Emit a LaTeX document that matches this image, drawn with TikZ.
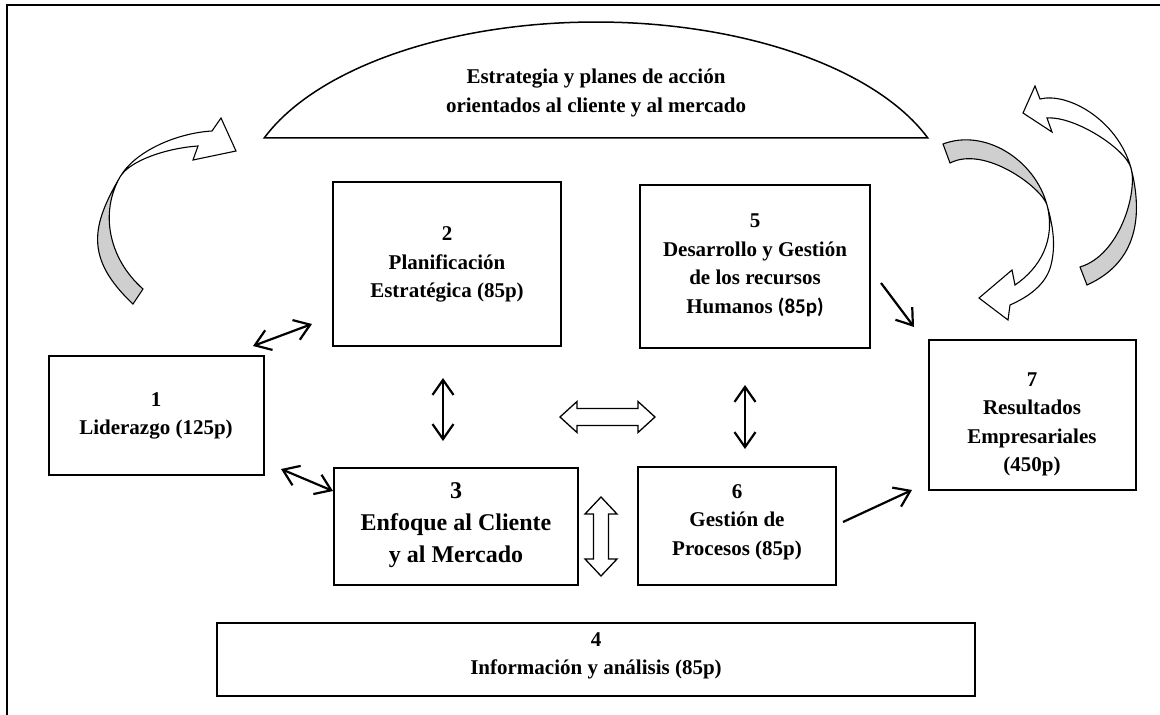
\documentclass[tikz,border=0pt]{standalone}
\usepackage{fontspec}
\setmainfont{Liberation Serif}
\newfontfamily\calib{Carlito}
\usetikzlibrary{arrows.meta}
\begin{document}
\begin{tikzpicture}[x=1pt,y=-1pt,
 >={Straight Barb[length=15pt,width=21pt]},
 box/.style={draw,line width=1.6pt,fill=white,inner sep=0pt},
 lbl/.style={align=center,inner sep=0pt,font=\bfseries\fontsize{21}{28.5}\selectfont},
 lblbig/.style={align=center,inner sep=0pt,font=\bfseries\fontsize{24}{32}\selectfont},
 link/.style={line width=2.2pt},
 twist/.style={draw,line width=1.1pt,line join=miter},
 backside/.style={twist,fill=black!19},
 frontside/.style={twist,fill=white},
 hollow/.style={draw,line width=1.3pt,fill=white,line join=miter}]

\useasboundingbox (0,0) rectangle (1160,715);

% outer frame
\draw[line width=1.7pt] (7,715) -- (7,5) -- (1160,5);

% dome
\draw[line width=1.5pt,fill=white] plot[domain=20.4:159.6,samples=90,variable=\t] ({596+354*cos(\t)},{200-178*sin(\t)}) -- cycle;
\node[lbl] (tdome) at (596,93) {Estrategia y planes de acción\\orientados al cliente y al mercado};

% boxes
\node[box,minimum width=215pt,minimum height=119pt] (b1) at (156.5,415.5) {};
\node[box,minimum width=228pt,minimum height=164pt] (b2) at (447,264) {};
\node[box,minimum width=244pt,minimum height=117pt] (b3) at (456,526.5) {};
\node[box,minimum width=758pt,minimum height=73pt] (b4) at (596,659.5) {};
\node[box,minimum width=230pt,minimum height=163pt] (b5) at (755,266.5) {};
\node[box,minimum width=198pt,minimum height=118pt] (b6) at (737,526) {};
\node[box,minimum width=207pt,minimum height=150pt] (b7) at (1032.5,415) {};

% labels
\node[lbl] (t1) at (156,416) {1\\Liderazgo (125p)};
\node[lbl] (t2) at (447,264.5) {2\\Planificación\\Estratégica (85p)};
\node[lblbig] (t3) at (456,525.5) {3\\Enfoque al Cliente\\y al Mercado};
\node[lbl] (t4) at (596,656) {4\\Información y análisis (85p)};
\node[lbl] (t5) at (755,265.5) {5\\Desarrollo y Gestión\\de los recursos\\Humanos {\calib (85p)}};
\node[lbl] (t6) at (737,522) {6\\Gestión de\\Procesos (85p)};
\node[lbl] (t7) at (1032,424.5) {7\\Resultados\\Empresariales\\(450p)};

% connector end points
\coordinate (a12s) at (253,346);
\coordinate (a12e) at (312,324);
\coordinate (a13s) at (281,469);
\coordinate (a13e) at (333,491);
\coordinate (a23s) at (443,378);
\coordinate (a23e) at (443,441);
\coordinate (a56s) at (745,385);
\coordinate (a56e) at (745,449);
\coordinate (a57s) at (881,283);
\coordinate (a57e) at (914,327);
\coordinate (a67s) at (843,522);
\coordinate (a67e) at (912,490);

\draw[link,<->] (a12s) -- (a12e);
\draw[link,<->] (a13s) -- (a13e);
\draw[link,<->] (a23s) -- (a23e);
\draw[link,<->] (a56s) -- (a56e);
\draw[link,->] (a57s) -- (a57e);
\draw[link,->] (a67s) -- (a67e);

% hollow double arrows
\draw[hollow] (560,417) -- (577,401.5) -- (577,408.5) -- (638,408.5) -- (638,401.5) -- (655,417)
  -- (638,432.5) -- (638,425.5) -- (577,425.5) -- (577,432.5) -- cycle;
\draw[hollow] (601,497) -- (617,514) -- (608.5,514) -- (608.5,559) -- (617,559) -- (601,576)
  -- (585,559) -- (593.5,559) -- (593.5,514) -- (585,514) -- cycle;

% left curved arrow
\draw[backside] (120,177) .. controls (92,225) and (84,258) .. (133,304) -- (143,289)
  .. controls (108,258) and (100,212) .. (120,177) -- cycle;
\draw[frontside] (120,177) .. controls (135,151) and (177,133) .. (212,131) -- (221,118) -- (236,151)
  -- (193,160) -- (198,146) .. controls (168,148) and (130,160) .. (120,177) -- cycle;

% right outer curved arrow
\draw[frontside] (1131,168) .. controls (1117.5,120) and (1068,92) .. (1040,99) -- (1035,86) -- (1023,113)
  -- (1052,132) -- (1047,118) .. controls (1075,116) and (1125.6,148.8) .. (1131,168) -- cycle;
\draw[backside] (1131,168) .. controls (1143,215) and (1138,262) .. (1087,285) -- (1080,267)
  .. controls (1120,255) and (1137.75,192) .. (1131,168) -- cycle;

% right inner curved arrow
\draw[backside] (943,144) .. controls (985,128) and (1035,160) .. (1047,205)
  .. controls (1042,188) and (985,145) .. (950,163) -- cycle;
\draw[frontside] (1047,205) .. controls (1053,226) and (1056,245) .. (1051,265)
  .. controls (1046,285) and (1028,297) .. (1010,305) -- (1008,320) -- (979,298) -- (1012,270) -- (1015,285)
  .. controls (1040,268) and (1056,240) .. (1047,205) -- cycle;
\end{tikzpicture}
\end{document}
